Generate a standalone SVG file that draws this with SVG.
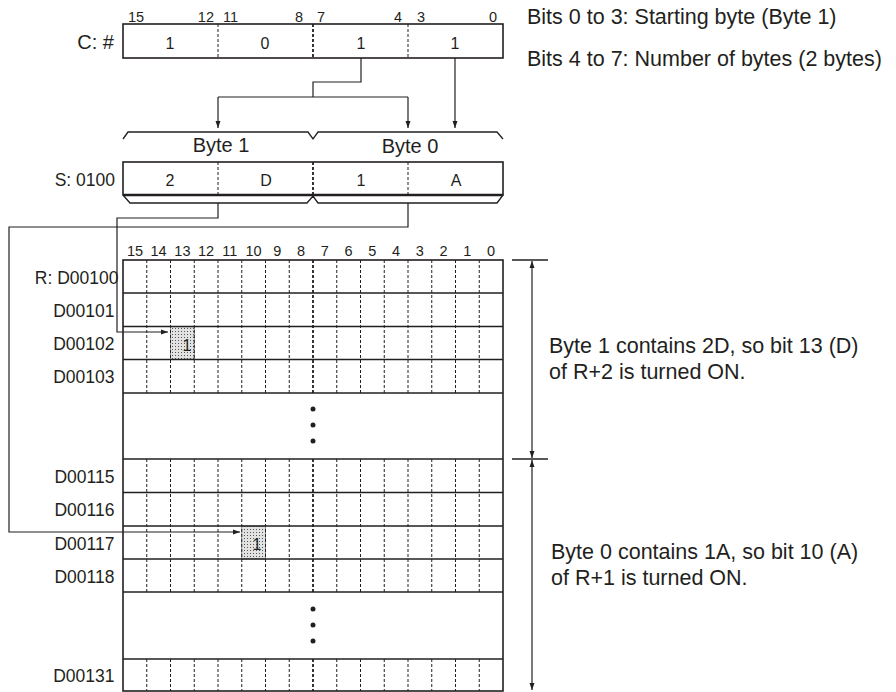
<svg xmlns="http://www.w3.org/2000/svg" width="896" height="692" viewBox="0 0 896 692">
<defs>
<style>
text{font-family:"Liberation Sans",Arial,Helvetica,sans-serif;fill:#231f20}
.lbl{font-size:20px}
.big{font-size:21.5px}
.row{font-size:17.5px;text-anchor:end}
.bit{font-size:14.5px;text-anchor:middle}
.bitn{font-size:14.5px}
.val{font-size:16px;text-anchor:middle}
.box{fill:#fff;stroke:#231f20;stroke-width:1.6}
.ln{fill:none;stroke:#231f20;stroke-width:1.3}
.dash{stroke:#231f20;stroke-width:1;stroke-dasharray:3 2}
.dashb{stroke:#231f20;stroke-width:1.8;stroke-dasharray:3 2}
.conn{fill:none;stroke:#231f20;stroke-width:1.2}
.dot{fill:#231f20}
</style>
<pattern id="stip" width="3" height="3" patternUnits="userSpaceOnUse">
<rect width="3" height="3" fill="#e2e2e2"/>
<rect x="1" y="1" width="1" height="1" fill="#555"/>
</pattern>
<marker id="ah" markerWidth="7" markerHeight="6" refX="7" refY="3" orient="auto-start-reverse" markerUnits="userSpaceOnUse">
<path d="M0,0.5 L7,3 L0,5.5 z" fill="#231f20"/>
</marker>
</defs>

<g id="reg-c">
<rect class="box" x="123" y="24" width="380" height="34"/>
<line class="dash" x1="218" y1="24" x2="218" y2="58"/>
<line class="dashb" x1="313" y1="24" x2="313" y2="58"/>
<line class="dash" x1="408" y1="24" x2="408" y2="58"/>
<text class="bitn" x="128" y="22">15</text>
<text class="bitn" x="214" y="22" text-anchor="end">12</text>
<text class="bitn" x="223" y="22">11</text>
<text class="bitn" x="303" y="22" text-anchor="end">8</text>
<text class="bitn" x="317" y="22">7</text>
<text class="bitn" x="402" y="22" text-anchor="end">4</text>
<text class="bitn" x="417" y="22">3</text>
<text class="bitn" x="497" y="22" text-anchor="end">0</text>
<text class="lbl" x="114" y="49" text-anchor="end">C: #</text>
<text class="val" x="170" y="49">1</text>
<text class="val" x="265" y="49">0</text>
<text class="val" x="361" y="49">1</text>
<text class="val" x="455" y="49">1</text>
</g>

<g id="note-c">
<text class="big" x="527" y="24">Bits 0 to 3: Starting byte (Byte 1)</text>
<text class="big" x="527" y="66">Bits 4 to 7: Number of bytes (2 bytes)</text>
</g>

<g id="byte-braces">
<path class="ln" d="M123,139 L128,132 H308 L313,139 L318,132 H497 L503,139"/>
<text class="lbl" x="221" y="152" text-anchor="middle">Byte 1</text>
<text class="lbl" x="410" y="153" text-anchor="middle">Byte 0</text>
<path class="ln" d="M123,195 L130,203 H307 L313,196 L318,203 H497 L503,195"/>
</g>

<g id="reg-s">
<rect class="box" x="123" y="162" width="380" height="33"/>
<line x1="123" y1="195" x2="503" y2="195" stroke="#231f20" stroke-width="2.4"/>
<line class="dash" x1="218" y1="162" x2="218" y2="195"/>
<line class="dashb" x1="313" y1="162" x2="313" y2="195"/>
<line class="dash" x1="408" y1="162" x2="408" y2="195"/>
<text class="row" x="115" y="186">S: 0100</text>
<text class="val" x="170" y="186">2</text>
<text class="val" x="266" y="186">D</text>
<text class="val" x="361" y="186">1</text>
<text class="val" x="456" y="186">A</text>
</g>

<g id="grid-r">
<rect class="box" x="123" y="260" width="380" height="431"/>
<g id="bit-numbers">
<text class="bit" x="135" y="256">15</text>
<text class="bit" x="158.6" y="256">14</text>
<text class="bit" x="182.4" y="256">13</text>
<text class="bit" x="206.1" y="256">12</text>
<text class="bit" x="229.9" y="256">11</text>
<text class="bit" x="253.6" y="256">10</text>
<text class="bit" x="277.4" y="256">9</text>
<text class="bit" x="301.1" y="256">8</text>
<text class="bit" x="324.9" y="256">7</text>
<text class="bit" x="348.6" y="256">6</text>
<text class="bit" x="372.4" y="256">5</text>
<text class="bit" x="396.1" y="256">4</text>
<text class="bit" x="419.9" y="256">3</text>
<text class="bit" x="443.6" y="256">2</text>
<text class="bit" x="467.4" y="256">1</text>
<text class="bit" x="491.1" y="256">0</text>
</g>
<g id="cell-13">
<rect x="170.5" y="326.5" width="23.75" height="33" fill="url(#stip)" stroke="#555" stroke-width="0.6"/>
<text class="val" x="187" y="351">1</text>
</g>
<g id="cell-10">
<rect x="241.75" y="526" width="23.75" height="33" fill="url(#stip)" stroke="#555" stroke-width="0.6"/>
<text class="val" x="257" y="550">1</text>
</g>
<g id="row-lines">
<line class="ln" x1="123" y1="293" x2="503" y2="293"/>
<line class="ln" x1="123" y1="326.5" x2="503" y2="326.5"/>
<line class="ln" x1="123" y1="359.5" x2="503" y2="359.5"/>
<line class="ln" x1="123" y1="393" x2="503" y2="393"/>
<line class="ln" x1="123" y1="459" x2="503" y2="459"/>
<line class="ln" x1="123" y1="492.5" x2="503" y2="492.5"/>
<line class="ln" x1="123" y1="526" x2="503" y2="526"/>
<line class="ln" x1="123" y1="559" x2="503" y2="559"/>
<line class="ln" x1="123" y1="592" x2="503" y2="592"/>
<line class="ln" x1="123" y1="659" x2="503" y2="659"/>
</g>
<g id="col-lines">
<path class="dash" d="M146.75,260V393M170.5,260V393M194.25,260V393M218,260V393M241.75,260V393M265.5,260V393M289.25,260V393M336.75,260V393M360.5,260V393M384.25,260V393M408,260V393M431.75,260V393M455.5,260V393M479.25,260V393"/>
<path class="dash" d="M146.75,459V592M170.5,459V592M194.25,459V592M218,459V592M241.75,459V592M265.5,459V592M289.25,459V592M336.75,459V592M360.5,459V592M384.25,459V592M408,459V592M431.75,459V592M455.5,459V592M479.25,459V592"/>
<path class="dash" d="M146.75,659V691M170.5,659V691M194.25,659V691M218,659V691M241.75,659V691M265.5,659V691M289.25,659V691M336.75,659V691M360.5,659V691M384.25,659V691M408,659V691M431.75,659V691M455.5,659V691M479.25,659V691"/>
<path class="dashb" d="M313,260V393M313,459V592M313,659V691"/>
</g>
<g id="ellipsis">
<circle class="dot" cx="313" cy="409" r="2.5"/>
<circle class="dot" cx="313" cy="425" r="2.5"/>
<circle class="dot" cx="313" cy="441" r="2.5"/>
<circle class="dot" cx="313" cy="609" r="2.5"/>
<circle class="dot" cx="313" cy="625" r="2.5"/>
<circle class="dot" cx="313" cy="641" r="2.5"/>
</g>
<g id="row-labels">
<text class="row" x="118.5" y="283.5">R: D00100</text>
<text class="row" x="114.5" y="316.5">D00101</text>
<text class="row" x="114.5" y="349.5">D00102</text>
<text class="row" x="114.5" y="383">D00103</text>
<text class="row" x="114.5" y="482.5">D00115</text>
<text class="row" x="114.5" y="516">D00116</text>
<text class="row" x="114.5" y="549.5">D00117</text>
<text class="row" x="114.5" y="582.5">D00118</text>
<text class="row" x="114.5" y="682">D00131</text>
</g>
</g>

<g id="range-notes">
<line class="ln" x1="512" y1="260" x2="548" y2="260"/>
<line class="ln" x1="512" y1="459" x2="548" y2="459"/>
<text class="big" x="549" y="353">Byte 1 contains 2D, so bit 13 (D)</text>
<text class="big" x="549" y="379">of R+2 is turned ON.</text>
<text class="big" x="551" y="559">Byte 0 contains 1A, so bit 10 (A)</text>
<text class="big" x="551" y="585">of R+1 is turned ON.</text>
</g>

<g id="connectors">
<path class="conn" d="M361,58 V82 H313 V97"/>
<path class="conn" d="M218,97 H408"/>
<path class="conn" d="M218,97 V128" marker-end="url(#ah)"/>
<path class="conn" d="M408,97 V128" marker-end="url(#ah)"/>
<path class="conn" d="M455,58 V128" marker-end="url(#ah)"/>
<path class="conn" d="M218,203 V218 H117 V332 H168" marker-end="url(#ah)"/>
<path class="conn" d="M408,203 V227 H9 V532 H240" marker-end="url(#ah)"/>
<path class="conn" d="M532,261 V458" marker-start="url(#ah)" marker-end="url(#ah)"/>
<path class="conn" d="M532,460 V690" marker-start="url(#ah)" marker-end="url(#ah)"/>
</g>
</svg>
